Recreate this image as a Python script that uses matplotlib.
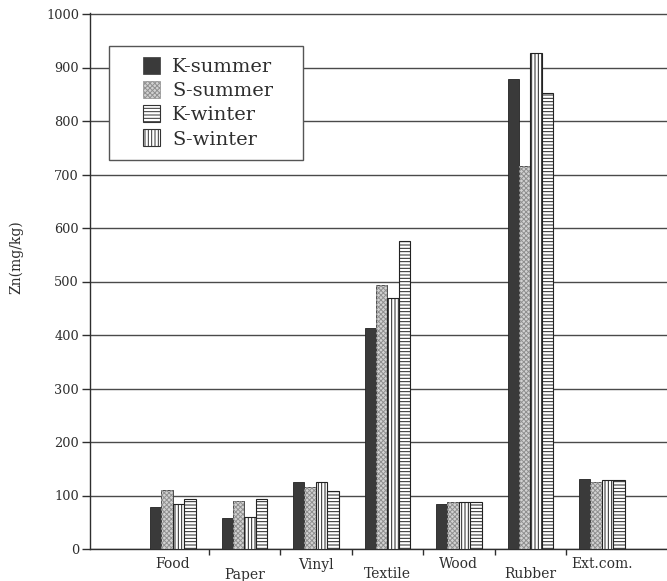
import matplotlib
matplotlib.use("Agg")
import matplotlib.pyplot as plt
import numpy as np
from matplotlib.patches import Patch, Rectangle
from matplotlib.legend_handler import HandlerPatch
from matplotlib.transforms import blended_transform_factory, ScaledTranslation

# Zn content by waste component and sampling site/season
categories = ["Food", "Paper", "Vinyl", "Textile", "Wood", "Rubber", "Ext.com."]
k_summer = [79, 58, 126, 414, 84, 878, 130]
s_summer = [110, 90, 115, 493, 87, 716, 125]
s_winter = [84, 60, 125, 470, 88, 927, 129]
k_winter = [93, 93, 109, 576, 88, 852, 129]
y_ticks = list(range(0, 1001, 100))

plt.rcParams["font.family"] = ["DejaVu Serif"]
plt.rcParams["hatch.linewidth"] = 0.7
ink = "#2e2e2e"

W, H = 667, 581
fig = plt.figure(figsize=(W / 100, H / 100), dpi=100)
ax = fig.add_axes([90 / W, 32 / H, 1 - 90 / W, (568.07 - 32) / H])

x = np.arange(len(categories))
w = 0.16
offs = [-1.5 * w, -0.5 * w, 0.5 * w, 1.5 * w]

ax.bar(x + offs[0], k_summer, w, facecolor="#3a3a3a", edgecolor="#222222", lw=0.6, zorder=3)
ax.bar(x + offs[1], s_summer, w, facecolor="#d2d2d2", edgecolor="#333333", lw=0.6, zorder=3)
ax.bar(x + offs[1], s_summer, w, facecolor="none", edgecolor="#909090", lw=0,
       hatch="xxxxxxx", zorder=3.1)
ax.bar(x + offs[2], s_winter, w, facecolor="white", edgecolor="#222222", lw=0.8,
       hatch="|||||", zorder=3)
ax.bar(x + offs[3], k_winter, w, facecolor="white", edgecolor="#222222", lw=0.8,
       hatch="-----", zorder=3)

ax.set_xlim(-1.16, 6.91)
ax.set_ylim(0, 1002)
ax.set_yticks(y_ticks)
ax.yaxis.grid(True, color="#4a4a4a", lw=1.0, zorder=0)
ax.set_axisbelow(True)

for s in ["top", "right"]:
    ax.spines[s].set_visible(False)
for s in ["left", "bottom"]:
    ax.spines[s].set_color(ink)
    ax.spines[s].set_linewidth(1.0)

ax.tick_params(axis="y", direction="out", length=6, width=1, color=ink,
               labelsize=9.3, labelcolor=ink, pad=2)
ax.set_xticks(x)
ax.set_xticklabels([])
ax.tick_params(axis="x", which="major", length=0)
ax.set_xticks(x[:-1] + 0.5, minor=True)
ax.tick_params(axis="x", which="minor", direction="out", length=4, width=1, color=ink)

# staggered category labels
base = blended_transform_factory(ax.transData, ax.transAxes)
for i, lab in enumerate(categories):
    dy = 8.5 if i % 2 == 0 else 18.5
    tr = base + ScaledTranslation(0, -dy / 100, fig.dpi_scale_trans)
    ax.text(x[i], 0, lab, transform=tr, ha="center", va="top",
            fontsize=10, color=ink)

fig.text(16 / W, 1 - 257 / H, "Zn(mg/kg)", rotation=90, ha="center", va="center",
         fontsize=10, color=ink)


def square_right(legend, orig_handle, xdescent, ydescent, width, height, fontsize):
    side = 17 / 100 * 72
    return Rectangle((width - side - xdescent, -ydescent + (height - side) / 2),
                     side, side)


handles = [
    Patch(facecolor="#3a3a3a", edgecolor="#3a3a3a", lw=0.5),
    Patch(facecolor="#d2d2d2", edgecolor="#909090", lw=0.5, hatch="xxxxxxx"),
    Patch(facecolor="white", edgecolor="#333333", lw=0.8, hatch="-----"),
    Patch(facecolor="white", edgecolor="#333333", lw=0.8, hatch="|||||"),
]
labels = ["K-summer", "S-summer", "K-winter", "S-winter"]
x0, y1, x1, y0 = 109 / W, 1 - 46 / H, 303 / W, 1 - 160 / H
leg = ax.legend(handles, labels, loc="upper left",
                bbox_to_anchor=(x0, y0, x1 - x0, y1 - y0),
                bbox_transform=fig.transFigure, mode="expand",
                borderaxespad=0, borderpad=0.6, handlelength=2.0, handleheight=0.9,
                handletextpad=0.65, labelspacing=0.27, fontsize=14,
                fancybox=False, framealpha=1, edgecolor="#555555",
                handler_map={Patch: HandlerPatch(patch_func=square_right)})
leg.get_frame().set_linewidth(1.0)
leg.set_zorder(5)
for t in leg.get_texts():
    t.set_color(ink)

fig.savefig("out.png", dpi=100)
